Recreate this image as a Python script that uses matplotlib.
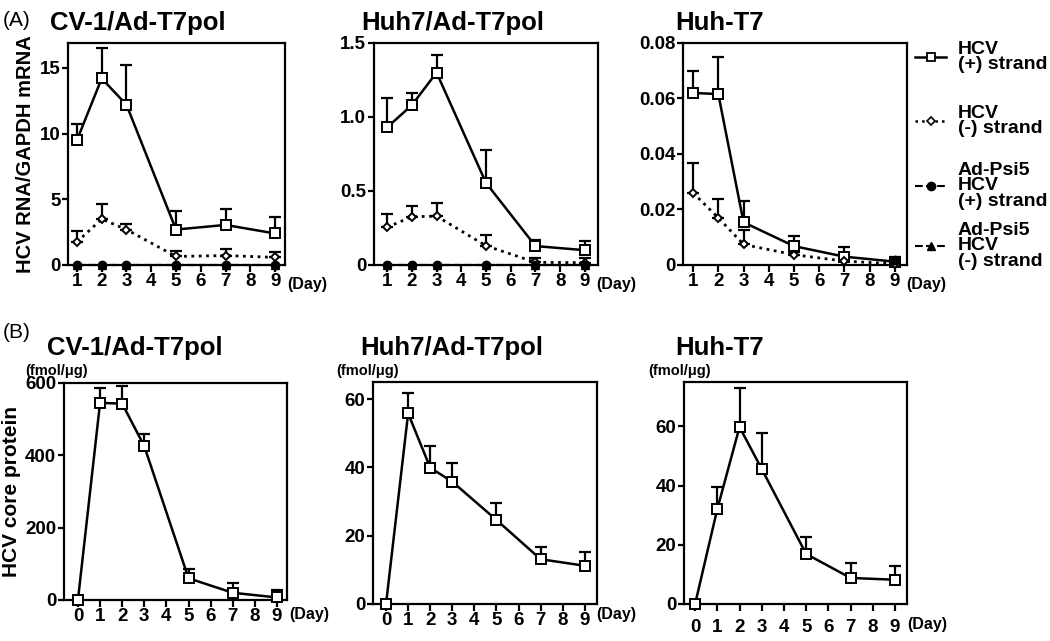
import numpy as np
import matplotlib
matplotlib.use('Agg')
import matplotlib.pyplot as plt
from matplotlib.lines import Line2D
from matplotlib import font_manager

plt.rcParams['font.family'] = ['Liberation Sans', 'DejaVu Sans']
plt.rcParams['font.weight'] = 'bold'

# narrow face for tick labels, if present
names = {f.name for f in font_manager.fontManager.ttflist}
tick_font = 'Liberation Sans Narrow' if 'Liberation Sans Narrow' in names else 'Liberation Sans'

# ---- data (A: HCV RNA / GAPDH mRNA) ----
days_a = [1, 2, 3, 5, 7, 9]
cv1_plus = [9.5, 14.2, 12.2, 2.7, 3.05, 2.4]
cv1_plus_err = [1.2, 2.3, 3.0, 1.4, 1.25, 1.25]
cv1_minus = [1.75, 3.5, 2.7, 0.65, 0.72, 0.58]
cv1_minus_err = [0.85, 1.15, 0.45, 0.4, 0.5, 0.4]
cv1_psi_plus = [0, 0, 0, 0, 0, 0]
cv1_psi_minus = [0, 0, 0, 0, 0, 0]

huh7_plus = [0.93, 1.08, 1.30, 0.555, 0.128, 0.10]
huh7_plus_err = [0.20, 0.08, 0.12, 0.225, 0.04, 0.064]
huh7_minus = [0.255, 0.326, 0.33, 0.13, 0.018, 0.016]
huh7_minus_err = [0.09, 0.07, 0.09, 0.07, 0.03, 0.03]
huh7_psi_plus = [0, 0, 0, 0, 0, 0]
huh7_psi_minus = [0, 0, 0, 0, 0, 0]

huht7_plus = [0.062, 0.0616, 0.0154, 0.0068, 0.003, 0.0012]
huht7_plus_err = [0.0078, 0.0134, 0.0076, 0.0036, 0.0036, 0.0018]
huht7_minus = [0.026, 0.017, 0.0074, 0.0037, 0.0014, 0.0004]
huht7_minus_err = [0.0107, 0.0069, 0.0052, 0.001, 0.0016, 0.0]
huht7_psi_days = [9]
huht7_psi_plus = [0.0018]
huht7_psi_minus = [0.0018]

# ---- data (B: HCV core protein, fmol/ug) ----
days_b = [0, 1, 2, 3, 5, 7, 9]
cv1_core = [0, 545, 543, 425, 60, 20, 7]
cv1_core_err = [0, 40, 50, 34, 26, 26, 21]
huh7_core = [0, 55.8, 39.9, 35.8, 24.6, 13.1, 11.2]
huh7_core_err = [0, 6.1, 6.3, 5.6, 5.1, 3.7, 4.1]
huht7_core = [0, 32.1, 59.8, 45.6, 16.9, 8.8, 8.2]
huht7_core_err = [0, 7.4, 13.1, 12.1, 5.6, 5.0, 4.7]

W, H = 1050, 641
fig = plt.figure(figsize=(W / 100, H / 100), dpi=100)


def px(x, y):
    return x / W, 1 - y / H


def box(l, r, t, b):
    return [l / W, 1 - b / H, (r - l) / W, (b - t) / H]


def style_axes(ax, xticks, xlim, ylim, yticks, yticklabels, xpad=1):
    ax.set_xlim(*xlim)
    ax.set_ylim(*ylim)
    ax.set_xticks(xticks)
    ax.set_xticklabels([str(d) for d in xticks], fontsize=13.5, fontweight='bold',
                       family=tick_font)
    ax.set_yticks(yticks)
    ax.set_yticklabels(yticklabels, fontsize=13.5, fontweight='bold', family=tick_font)
    for s in ax.spines.values():
        s.set_linewidth(1.6)
    ax.tick_params(axis='x', direction='out', length=5, width=1.6, pad=xpad)
    ax.tick_params(axis='y', direction='out', length=4, width=1.6, pad=1.5)


def err_line(ax, x, y, e, ls, marker, ms, mfc, lw=1.8):
    lower = np.zeros(len(e))
    ax.errorbar(x, y, yerr=[lower, e], fmt='none', ecolor='black',
                elinewidth=1.6, capsize=4, capthick=1.6, zorder=2)
    ax.plot(x, y, linestyle=ls, color='black', lw=lw, marker=marker,
            ms=ms, mfc=mfc, mec='black', mew=1.4, zorder=3, clip_on=False)


def psi(ax, x, yp, ym):
    ax.plot(x, yp, linestyle='--', color='black', lw=1.5, marker='o', ms=6,
            mfc='black', mec='black', zorder=4, clip_on=False)
    ax.plot(x, ym, linestyle='--', color='black', lw=1.5, marker='^', ms=6,
            mfc='black', mec='black', zorder=4, clip_on=False)


xt_a = list(range(1, 10))
xt_b = list(range(0, 10))

# ---- panel A ----
ax1 = fig.add_axes(box(68, 285, 43, 265))
err_line(ax1, days_a, cv1_plus, cv1_plus_err, '-', 's', 7, 'white')
err_line(ax1, days_a, cv1_minus, cv1_minus_err, ':', 'D', 4.5, 'white', lw=2)
psi(ax1, days_a, cv1_psi_plus, cv1_psi_minus)
style_axes(ax1, xt_a, (0.64, 9.4), (0, 16.9), [0, 5, 10, 15], ['0', '5', '10', '15'])
ax1.set_ylabel('HCV RNA/GAPDH mRNA', fontsize=14.5, fontweight='bold', labelpad=3)

ax2 = fig.add_axes(box(374, 598, 43, 265))
err_line(ax2, days_a, huh7_plus, huh7_plus_err, '-', 's', 7, 'white')
err_line(ax2, days_a, huh7_minus, huh7_minus_err, ':', 'D', 4.5, 'white', lw=2)
psi(ax2, days_a, huh7_psi_plus, huh7_psi_minus)
style_axes(ax2, xt_a, (0.47, 9.53), (0, 1.5), [0, 0.5, 1.0, 1.5], ['0', '0.5', '1.0', '1.5'])

ax3 = fig.add_axes(box(683, 907, 43, 265))
err_line(ax3, days_a, huht7_plus, huht7_plus_err, '-', 's', 7, 'white')
err_line(ax3, days_a, huht7_minus, huht7_minus_err, ':', 'D', 4.5, 'white', lw=2)
psi(ax3, huht7_psi_days, huht7_psi_plus, huht7_psi_minus)
style_axes(ax3, xt_a, (0.6, 9.48), (0, 0.08), [0, 0.02, 0.04, 0.06, 0.08],
           ['0', '0.02', '0.04', '0.06', '0.08'])

# ---- panel B ----
ax4 = fig.add_axes(box(64, 287, 383, 600))
err_line(ax4, days_b, cv1_core, cv1_core_err, '-', 's', 7, 'white')
style_axes(ax4, xt_b, (-0.63, 9.45), (0, 600), [0, 200, 400, 600], ['0', '200', '400', '600'])
ax4.set_ylabel('HCV core protein', fontsize=15, fontweight='bold', labelpad=3)

ax5 = fig.add_axes(box(373, 597, 382, 604))
err_line(ax5, days_b, huh7_core, huh7_core_err, '-', 's', 7, 'white')
style_axes(ax5, xt_b, (-0.59, 9.55), (0, 65), [0, 20, 40, 60], ['0', '20', '40', '60'])

ax6 = fig.add_axes(box(684, 907, 382, 604))
err_line(ax6, days_b, huht7_core, huht7_core_err, '-', 's', 7, 'white')
style_axes(ax6, xt_b, (-0.5, 9.54), (0, 75), [0, 20, 40, 60], ['0', '20', '40', '60'], xpad=6)

# ---- titles and labels ----
fig.text(*px(3, 20), '(A)', fontsize=15, fontweight='normal', va='center')
fig.text(*px(3, 333), '(B)', fontsize=15, fontweight='normal', va='center')
for x, y, t in [(50, 23, 'CV-1/Ad-T7pol'), (361, 23, 'Huh7/Ad-T7pol'), (675, 23, 'Huh-T7'),
                (47, 348, 'CV-1/Ad-T7pol'), (360, 348, 'Huh7/Ad-T7pol'), (675, 348, 'Huh-T7')]:
    fig.text(*px(x, y), t, fontsize=18.5, fontweight='bold', va='center')
for x in [25, 336, 648]:
    fig.text(*px(x, 371), '(fmol/\u03bcg)', fontsize=10.5, fontweight='bold', va='center')
for x, y in [(287, 285), (596, 285), (906, 285), (289, 614), (596, 615), (907, 624)]:
    fig.text(*px(x, y), '(Day)', fontsize=11.5, fontweight='bold', va='center')

# ---- legend: one block per entry so the uneven spacing can be kept ----
handles = [
    Line2D([], [], ls='-', color='black', lw=1.8, marker='s', ms=6, mfc='white', mew=1.3),
    Line2D([], [], ls=':', color='black', lw=1.8, marker='D', ms=4, mfc='white', mew=1.2),
    Line2D([], [], ls='--', color='black', lw=1.5, marker='o', ms=6, mfc='black'),
    Line2D([], [], ls='--', color='black', lw=1.5, marker='^', ms=6, mfc='black'),
]
labels = ['HCV\n(+) strand', 'HCV\n(-) strand', 'Ad-Psi5\nHCV\n(+) strand', 'Ad-Psi5\nHCV\n(-) strand']
legend_y = [57, 121, 186, 246]
for h, lab, y in zip(handles, labels, legend_y):
    leg = fig.legend([h], [lab], loc='center left', bbox_to_anchor=px(915, y),
                     frameon=False, handlelength=1.6, handletextpad=0.6,
                     prop={'weight': 'bold', 'size': 14}, borderaxespad=0, borderpad=0)
    for t in leg.get_texts():
        t.set_linespacing(0.85)

fig.savefig('out.png', dpi=100)
